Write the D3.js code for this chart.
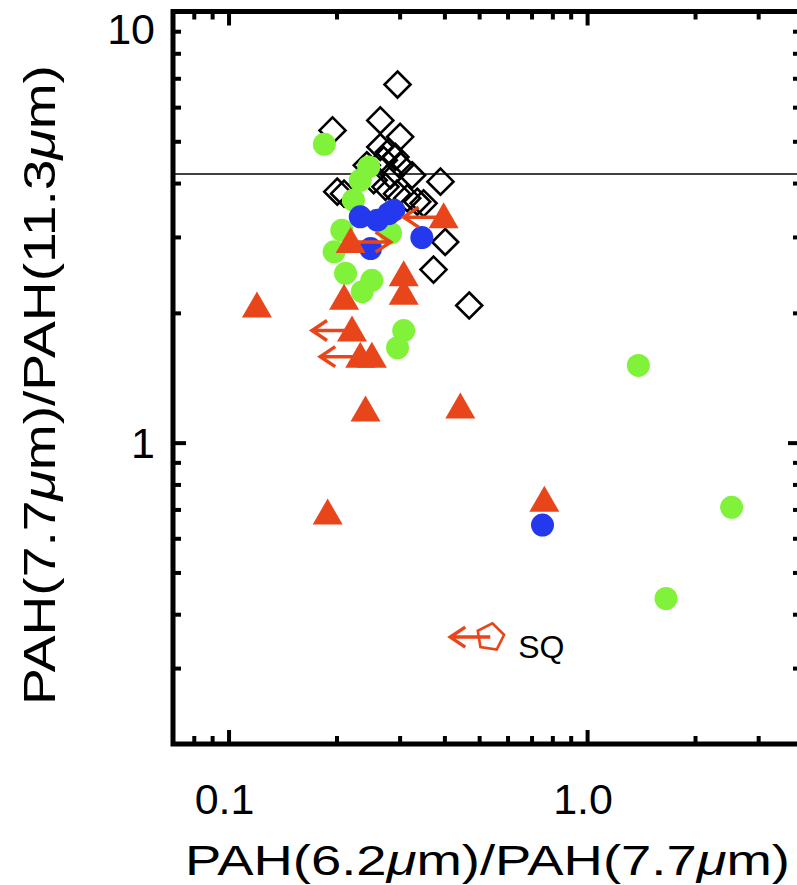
<!DOCTYPE html>
<html>
<head>
<meta charset="utf-8">
<script src="https://cdn.jsdelivr.net/npm/d3@7"></script>
<style>
  html, body { margin: 0; padding: 0; background: #fff; }
  svg { display: block; font-family: "Liberation Sans", Arial, sans-serif; }
</style>
</head>
<body>
<div id="box"></div>
<script>
// 数据：黑色空心菱形
const diamondX = [0.296, 0.265, 0.195, 0.301, 0.265, 0.280, 0.292, 0.271, 0.301, 0.325, 0.390, 0.283,
                  0.201, 0.210, 0.274, 0.295, 0.315, 0.336, 0.350, 0.402, 0.373, 0.469, 0.243, 0.254]
const diamondY = [6.77, 5.59, 5.30, 5.12, 4.85, 4.72, 4.60, 4.52, 4.40, 4.17, 4.03, 4.17,
                  3.82, 3.78, 3.92, 3.78, 3.69, 3.62, 3.59, 2.92, 2.52, 2.08, 4.40, 4.06]
// 绿色实心圆
const greenX = [0.185, 0.246, 0.233, 0.223, 0.207, 0.283, 0.197, 0.212, 0.251, 0.236, 0.308, 0.296, 1.39, 2.53, 1.66]
const greenY = [4.92, 4.36, 4.06, 3.65, 3.11, 3.06, 2.77, 2.47, 2.38, 2.24, 1.82, 1.66, 1.51, 0.708, 0.435]
// 蓝色实心圆
const blueX = [0.233, 0.260, 0.280, 0.289, 0.346, 0.249, 0.751]
const blueY = [3.34, 3.28, 3.40, 3.46, 2.99, 2.82, 0.644]
// 红色三角形，limit: -1 向左箭头(上限)，1 向右箭头，0 无
const triX = [0.398, 0.219, 0.308, 0.308, 0.210, 0.120, 0.221, 0.233, 0.251, 0.241, 0.443, 0.189, 0.760]
const triY = [3.37, 2.95, 2.47, 2.24, 2.18, 2.09, 1.84, 1.60, 1.60, 1.20, 1.22, 0.692, 0.741]
const triLimit = [-1, 1, 0, 0, 0, 0, -1, -1, 0, 0, 0, 0, 0]
// SQ 五边形
const sqX = [0.537]
const sqY = [0.354]
const sqLimit = [-1]
const sqLabel = ["SQ"]
// 水平参考线
const refLineY = 4.2

// 刻度
const xMajor = [0.1, 1]
const xMinor = [0.08, 0.09, 0.2, 0.3, 0.4, 0.5, 0.6, 0.7, 0.8, 0.9, 2, 3]
const xTickLabels = ["0.1", "1.0"]
const yMajor = [1, 10]
const yMinor = [0.3, 0.4, 0.5, 0.6, 0.7, 0.8, 0.9, 2, 3, 4, 5, 6, 7, 8, 9]
const yTickLabels = ["1", "10"]

const width = 797
const height = 885
const red = "#e8461a"
const green = "#80f23a"
const blue = "#2438ee"

const x = d3.scaleLog().domain([0.07, 3.95]).range([173, 801])
const y = d3.scaleLog().domain([0.2, 10]).range([744, 11.5])

const svg = d3.select('#box').append('svg')
  .attr('width', width)
  .attr('height', height)

svg.append('rect').attr('width', width).attr('height', height).attr('fill', '#fff')

// 参考线
svg.append('line')
  .attr('x1', x.range()[0]).attr('x2', x.range()[1])
  .attr('y1', y(refLineY)).attr('y2', y(refLineY))
  .attr('stroke', '#000').attr('stroke-width', 1.5)

// 菱形
const dsize = 13
svg.append('g').selectAll('path').data(d3.range(diamondX.length))
  .join('path')
  .attr('d', i => {
    const cx = x(diamondX[i]), cy = y(diamondY[i])
    return `M${cx},${cy - dsize}L${cx + dsize},${cy}L${cx},${cy + dsize}L${cx - dsize},${cy}Z`
  })
  .attr('fill', 'none').attr('stroke', '#000').attr('stroke-width', 2.6)

// 绿色圆
svg.append('g').selectAll('circle').data(d3.range(greenX.length))
  .join('circle')
  .attr('cx', i => x(greenX[i])).attr('cy', i => y(greenY[i]))
  .attr('r', 11.5).attr('fill', green)

// 蓝色圆
svg.append('g').selectAll('circle').data(d3.range(blueX.length))
  .join('circle')
  .attr('cx', i => x(blueX[i])).attr('cy', i => y(blueY[i]))
  .attr('r', 11.5).attr('fill', blue)

// 箭头（上下限）
const arrowLen = 40
function arrowPath(cx, cy, dir) {
  const tx = cx + dir * arrowLen
  return `M${cx},${cy}L${tx},${cy}M${tx - dir * 15},${cy - 10}L${tx},${cy}L${tx - dir * 15},${cy + 10}`
}

const arrows = svg.append('g').attr('fill', 'none').attr('stroke', red)
  .attr('stroke-width', 3.5).attr('stroke-linejoin', 'miter')
arrows.selectAll('path.tri').data(d3.range(triX.length).filter(i => triLimit[i] !== 0))
  .join('path').attr('class', 'tri')
  .attr('d', i => arrowPath(x(triX[i]), y(triY[i]) + 2, triLimit[i]))

// 三角形
const ts = 30, th = ts * 0.866
svg.append('g').selectAll('path').data(d3.range(triX.length))
  .join('path')
  .attr('d', i => {
    const cx = x(triX[i]), cy = y(triY[i])
    return `M${cx},${cy - th / 2}L${cx + ts / 2},${cy + th / 2}L${cx - ts / 2},${cy + th / 2}Z`
  })
  .attr('fill', red)

// SQ 五边形
const pr = 14
arrows.selectAll('path.sq').data(d3.range(sqX.length).filter(i => sqLimit[i] !== 0))
  .join('path').attr('class', 'sq')
  .attr('d', i => arrowPath(x(sqX[i]), y(sqY[i]), sqLimit[i]))
svg.append('g').selectAll('path').data(d3.range(sqX.length))
  .join('path')
  .attr('d', i => {
    const cx = x(sqX[i]), cy = y(sqY[i])
    const pts = d3.range(5).map(k => {
      const a = -Math.PI / 2 + k * 2 * Math.PI / 5 + 0.15
      return [cx + pr * Math.cos(a), cy + pr * Math.sin(a)]
    })
    return 'M' + pts.join('L') + 'Z'
  })
  .attr('fill', 'none').attr('stroke', red).attr('stroke-width', 2.6)
svg.append('g').selectAll('text').data(d3.range(sqX.length))
  .join('text')
  .attr('x', i => x(sqX[i]) + 28).attr('y', i => y(sqY[i]) + 21)
  .style('font-size', '32px')
  .text(i => sqLabel[i])

// 坐标轴刻度（向内）
function ticks(axisFn, values, size, transform) {
  const g = svg.append('g').attr('transform', transform)
    .call(axisFn.tickValues(values).tickSize(-size).tickFormat(''))
  g.select('.domain').remove()
  g.selectAll('line').attr('stroke-width', 4)
}
const [x0, x1] = x.range()
const [y0, y1] = y.range()
ticks(d3.axisBottom(x), xMajor, 14, `translate(0,${y0})`)
ticks(d3.axisBottom(x), xMinor, 8, `translate(0,${y0})`)
ticks(d3.axisTop(x), xMajor, 14, `translate(0,${y1})`)
ticks(d3.axisTop(x), xMinor, 8, `translate(0,${y1})`)
ticks(d3.axisLeft(y), yMajor, 13, `translate(${x0},0)`)
ticks(d3.axisLeft(y), yMinor, 8, `translate(${x0},0)`)
ticks(d3.axisRight(y), yMajor, 13, `translate(${x1},0)`)
ticks(d3.axisRight(y), yMinor, 8, `translate(${x1},0)`)

// 边框
svg.append('rect')
  .attr('x', x0).attr('y', y1).attr('width', x1 - x0).attr('height', y0 - y1)
  .attr('fill', 'none').attr('stroke', '#000').attr('stroke-width', 5)

// 刻度标签
svg.append('g').selectAll('text').data(xMajor)
  .join('text')
  .attr('x', d => x(d) - 4).attr('y', 814)
  .attr('text-anchor', 'middle')
  .style('font-size', '43px')
  .text((d, i) => xTickLabels[i])

svg.append('g').selectAll('text').data(yMajor)
  .join('text')
  .attr('x', 155).attr('y', d => Math.max(y(d) + 15, 44))
  .attr('text-anchor', 'end')
  .style('font-size', '43px')
  .text((d, i) => yTickLabels[i])

// 坐标轴标题
function title(el, a, b) {
  el.append('tspan').text('PAH(' + a)
  el.append('tspan').style('font-style', 'italic').text('μ')
  el.append('tspan').text('m)/PAH(' + b)
  el.append('tspan').style('font-style', 'italic').text('μ')
  el.append('tspan').text('m)')
}
const xt = svg.append('text')
  .attr('x', 185).attr('y', 875)
  .attr('textLength', 605).attr('lengthAdjust', 'spacingAndGlyphs')
  .style('font-size', '42px')
title(xt, '6.2', '7.7')

const yt = svg.append('text')
  .attr('transform', 'translate(55,705) rotate(-90)')
  .attr('textLength', 640).attr('lengthAdjust', 'spacingAndGlyphs')
  .style('font-size', '44px')
title(yt, '7.7', '11.3')
</script>
</body>
</html>
